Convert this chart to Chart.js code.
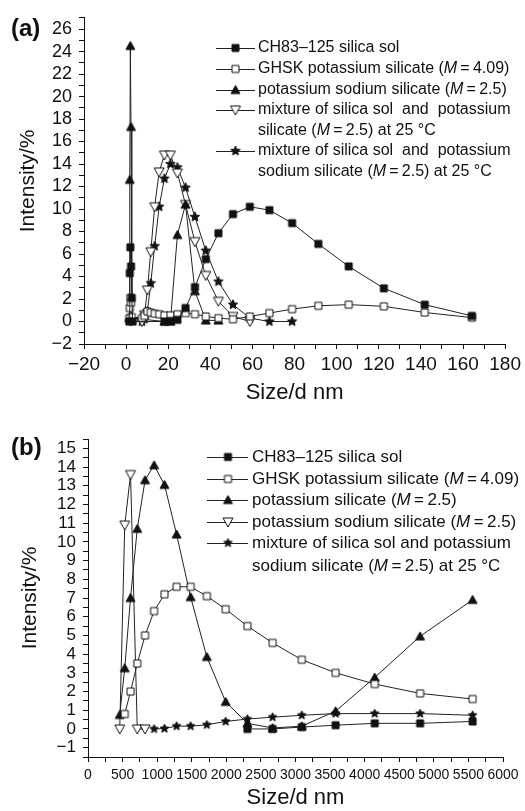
<!DOCTYPE html>
<html>
<head>
<meta charset="utf-8">
<script src="https://cdn.jsdelivr.net/npm/chart.js@4.4.1/dist/chart.umd.min.js"></script>
<style>
  html, body { margin: 0; padding: 0; background: #fff; }
  #wrap { position: relative; width: 525px; height: 811px; overflow: hidden; }
  canvas { position: absolute; left: 0; }
  #chart-a { top: 0; }
  #chart-b { top: 410px; }
</style>
</head>
<body>
<div id="wrap">
  <canvas id="chart-a" width="525" height="410" style="width:525px;height:410px"></canvas>
  <canvas id="chart-b" width="525" height="401" style="width:525px;height:401px"></canvas>
</div>
<script>
// ---- panel (a): size bins (nm) and intensity (%) ----
const solA_x = [1.499, 1.736, 2.01, 2.328, 2.696, 3.122, 18.17, 21.04, 24.36, 28.21, 32.67, 37.84, 43.82, 50.75, 58.77, 68.06, 78.82, 91.28, 105.7, 122.4, 141.8, 164.2];
const solA_y = [0, 4.3, 6.6, 4.9, 2.1, 0, 0, 0.05, 0.15, 1.2, 3.05, 5.55, 7.85, 9.55, 10.2, 9.9, 8.75, 6.9, 4.9, 2.95, 1.5, 0.5];

const ghskA_x = [1.499, 1.736, 2.01, 2.328, 2.696, 7.531, 8.721, 10.1, 11.7, 13.54, 15.69, 18.17, 21.04, 24.36, 28.21, 32.67, 37.84, 43.82, 50.75, 58.77, 68.06, 78.82, 91.28, 105.7, 122.4, 141.8, 164.2];
const ghskA_y = [0.3, 1.2, 2.1, 1.7, 0.4, 0.3, 0.5, 0.9, 0.8, 0.7, 0.65, 0.55, 0.55, 0.65, 0.75, 0.65, 0.45, 0.3, 0.2, 0.45, 0.75, 1.1, 1.4, 1.5, 1.35, 0.8, 0.35];

const kNaA_x = [1.499, 1.736, 2.01, 2.328, 2.696, 18.17, 21.04, 24.36, 28.21, 32.67, 37.84, 43.82];
const kNaA_y = [0.3, 12.6, 24.5, 17.3, 0.3, 0, 0, 7.7, 10.4, 2.7, 0.1, 0.1];

const mixKA_x = [7.531, 8.721, 10.1, 11.7, 13.54, 15.69, 18.17, 21.04, 24.36, 28.21, 32.67, 37.84, 43.82, 50.75, 58.77];
const mixKA_y = [0, 0.6, 2.8, 6.2, 10.2, 13.3, 14.8, 14.8, 13.2, 10.4, 7.1, 4.1, 1.8, 0.45, 0];

const mixKNaA_x = [7.531, 8.721, 10.1, 11.7, 13.54, 15.69, 18.17, 21.04, 24.36, 28.21, 32.67, 37.84, 43.82, 50.75, 58.77, 68.06, 78.82];
const mixKNaA_y = [0, 0.2, 0.9, 3.4, 6.7, 10.2, 12.7, 14.0, 13.7, 11.9, 9.3, 6.3, 3.55, 1.5, 0.3, 0, 0];

// ---- panel (b) ----
const solB_x = [2305, 2669, 3091, 3580, 4145, 4801, 5560];
const solB_y = [0, 0, 0.1, 0.2, 0.3, 0.3, 0.4];

const ghskB_x = [531.2, 615.1, 712.4, 825, 955.4, 1106, 1281, 1484, 1718, 1990, 2305, 2669, 3091, 3580, 4145, 4801, 5560];
const ghskB_y = [0.8, 2.0, 3.5, 5.0, 6.3, 7.2, 7.6, 7.6, 7.1, 6.4, 5.5, 4.6, 3.7, 3.0, 2.4, 1.9, 1.6];

const kB_x = [458.7, 531.2, 615.1, 712.4, 825, 955.4, 1106, 1281, 1484, 1718, 1990, 2305, 2669, 3091, 3580, 4145, 4801, 5560];
const kB_y = [0.75, 3.25, 7.0, 10.7, 13.3, 14.1, 13.05, 10.4, 7.05, 3.85, 1.45, 0.3, 0.05, 0.15, 0.95, 2.75, 4.95, 6.9];

const kNaB_x = [458.7, 531.2, 615.1, 712.4, 825];
const kNaB_y = [0, 10.9, 13.6, 0, 0];

const mixKNaB_x = [955.4, 1106, 1281, 1484, 1718, 1990, 2305, 2669, 3091, 3580, 4145, 4801, 5560];
const mixKNaB_y = [0, 0.02, 0.15, 0.15, 0.22, 0.4, 0.53, 0.63, 0.73, 0.82, 0.82, 0.82, 0.73];

// legend texts, *M* is italic
const legendA = [
  ['CH83\u2013125 silica sol'],
  ['GHSK potassium silicate (*M*\u2009=\u20094.09)'],
  ['potassium sodium silicate (*M*\u2009=\u20092.5)'],
  ['mixture of silica sol  and  potassium', 'silicate (*M*\u2009=\u20092.5) at 25 \u00B0C'],
  ['mixture of silica sol  and  potassium', 'sodium silicate (*M*\u2009=\u20092.5) at 25 \u00B0C'],
];
const legendB = [
  ['CH83\u2013125 silica sol'],
  ['GHSK potassium silicate (*M*\u2009=\u20094.09)'],
  ['potassium silicate (*M*\u2009=\u20092.5)'],
  ['potassium sodium silicate (*M*\u2009=\u20092.5)'],
  ['mixture of silica sol and potassium', 'sodium silicate (*M*\u2009=\u20092.5) at 25 \u00B0C'],
];

const FONT = '"Liberation Sans", Arial, Helvetica, sans-serif';
const INK = '#111';

function marker(kind, size, filled) {
  const s = Math.ceil(size) + 4;
  const c = document.createElement('canvas');
  c.width = s; c.height = s;
  const g = c.getContext('2d');
  const m = s / 2, r = size / 2;
  g.beginPath();
  if (kind === 'square') {
    g.rect(m - r, m - r, size, size);
  } else if (kind === 'up') {
    g.moveTo(m, m - r); g.lineTo(m + r, m + r * 0.8); g.lineTo(m - r, m + r * 0.8); g.closePath();
  } else if (kind === 'down') {
    g.moveTo(m - r, m - r * 0.8); g.lineTo(m + r, m - r * 0.8); g.lineTo(m, m + r); g.closePath();
  } else {
    for (let i = 0; i < 10; i++) {
      const a = -Math.PI / 2 + i * Math.PI / 5;
      const rr = i % 2 ? r * 0.45 : r;
      g.lineTo(m + rr * Math.cos(a), m + rr * Math.sin(a));
    }
    g.closePath();
  }
  g.fillStyle = filled ? INK : '#fff';
  g.fill();
  g.lineWidth = 1;
  g.strokeStyle = INK;
  g.stroke();
  return c;
}

const mkA = [marker('square', 7, true), marker('square', 7, false), marker('up', 9, true), marker('down', 10, false), marker('star', 10, true)];
const mkB = [marker('square', 7, true), marker('square', 7, false), marker('up', 9, true), marker('down', 10, false), marker('star', 9, true)];

function series(xs, ys, img) {
  return {
    data: xs.map((x, i) => ({ x, y: ys[i] })),
    showLine: true,
    borderColor: '#222',
    borderWidth: 1,
    pointStyle: img,
    pointRadius: 4,
    tension: 0,
    fill: false,
  };
}

function fmt(v) {
  return v < 0 ? '\u2212' + Math.abs(v) : String(v);
}

function drawRich(ctx, text, x, y, size) {
  text.split('*').forEach((part, i) => {
    ctx.font = (i % 2 ? 'italic ' : '') + size + 'px ' + FONT;
    ctx.fillText(part, x, y);
    x += ctx.measureText(part).width;
  });
}

const legendBox = {
  id: 'legendBox',
  afterDraw(chart, args, o) {
    const ctx = chart.ctx;
    ctx.save();
    ctx.fillStyle = INK;
    ctx.textBaseline = 'middle';
    o.labels.forEach((lines, i) => {
      const y = o.ys[i];
      ctx.strokeStyle = '#222';
      ctx.lineWidth = 1;
      ctx.beginPath();
      ctx.moveTo(o.x0, Math.round(y) + 0.5);
      ctx.lineTo(o.x1, Math.round(y) + 0.5);
      ctx.stroke();
      const img = o.markers[i];
      ctx.drawImage(img, o.xm - img.width / 2, y - img.height / 2);
      lines.forEach((ln, k) => drawRich(ctx, ln, o.tx, y + k * o.gap, o.size));
    });
    ctx.font = 'bold 24px ' + FONT;
    ctx.fillText(o.tag, o.tagX, o.tagY);
    ctx.restore();
  },
};

function axis(min, max, step, labelEvery, fontSize, fit, title, titleSize, titlePad) {
  return {
    type: 'linear',
    min, max,
    afterFit: fit,
    ticks: {
      stepSize: step,
      autoSkip: false,
      maxRotation: 0,
      color: INK,
      font: { size: fontSize, family: FONT },
      callback: v => (Math.abs(v / labelEvery - Math.round(v / labelEvery)) < 1e-6 ? fmt(v) : ''),
    },
    grid: { display: true, drawOnChartArea: false, tickLength: 5, tickColor: INK },
    border: { display: true, color: INK, width: 1 },
    title: { display: true, text: title, color: INK, font: { size: titleSize, family: FONT }, padding: titlePad },
  };
}

function makeChart(id, datasets, xAxis, yAxis, padding, legendOpts) {
  return new Chart(document.getElementById(id), {
    type: 'scatter',
    data: { datasets },
    options: {
      responsive: false,
      animation: false,
      events: [],
      layout: { padding },
      plugins: { legend: { display: false }, tooltip: { enabled: false }, legendBox: legendOpts },
      scales: { x: xAxis, y: yAxis },
    },
    plugins: [legendBox],
  });
}

const xA = axis(-20, 180, 10, 20, 19, s => { s.height = 66; }, 'Size/d nm', 22, { top: 0, bottom: 4 });
xA.ticks.padding = 4;
const yA = axis(-2, 27, 1, 2, 18, s => { s.width = 84; }, 'Intensity/%', 21, { top: 16, bottom: 0 });
yA.ticks.padding = 7;

makeChart('chart-a', [
  series(solA_x, solA_y, mkA[0]),
  series(ghskA_x, ghskA_y, mkA[1]),
  series(kNaA_x, kNaA_y, mkA[2]),
  series(mixKA_x, mixKA_y, mkA[3]),
  series(mixKNaA_x, mixKNaA_y, mkA[4]),
], xA, yA, { top: 17, right: 19, left: 0, bottom: 0 }, {
  labels: legendA, markers: mkA, ys: [48, 69, 90, 110, 151], gap: 20.5,
  x0: 216, x1: 255, xm: 235.5, tx: 258, size: 16, tag: '(a)', tagX: 11, tagY: 29,
});

const xB = axis(0, 6000, 250, 500, 14, s => { s.height = 54; }, 'Size/d nm', 22, { top: 0, bottom: 0 });
xB.ticks.padding = 5;
const yB = axis(-1.5, 15.5, 0.5, 1, 17, s => { s.width = 88; }, 'Intensity/%', 21, { top: 18, bottom: 0 });
yB.ticks.padding = 7;

makeChart('chart-b', [
  series(solB_x, solB_y, mkB[0]),
  series(ghskB_x, ghskB_y, mkB[1]),
  series(kB_x, kB_y, mkB[2]),
  series(kNaB_x, kNaB_y, mkB[3]),
  series(mixKNaB_x, mixKNaB_y, mkB[4]),
], xB, yB, { top: 29, right: 22, left: 0, bottom: 0 }, {
  labels: legendB, markers: mkB, ys: [47, 69, 90, 112, 133], gap: 23,
  x0: 207, x1: 248, xm: 228, tx: 252, size: 17, tag: '(b)', tagX: 11, tagY: 38,
});
</script>
</body>
</html>
